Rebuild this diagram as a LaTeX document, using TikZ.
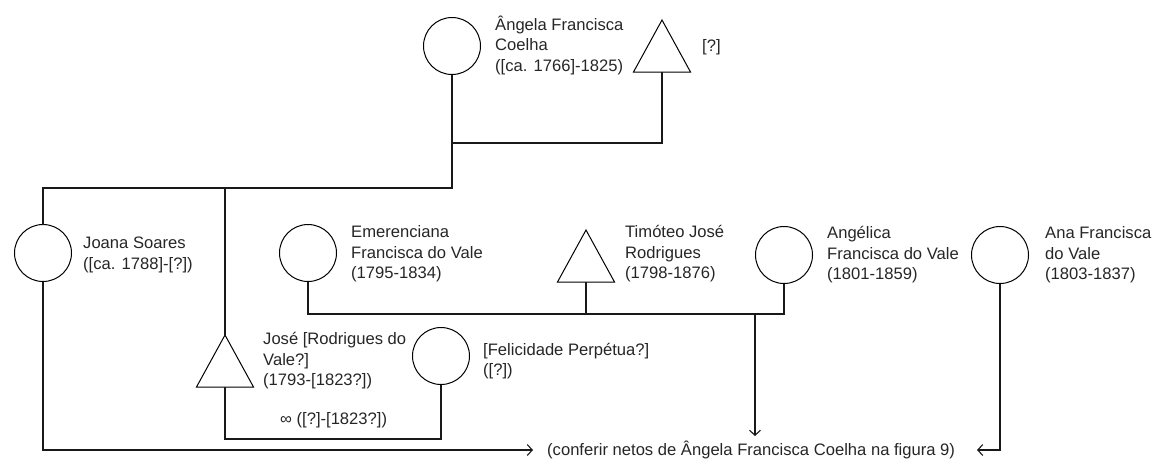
\documentclass[tikz,border=0pt]{standalone}
\usepackage{fontspec}
\setmainfont{Liberation Sans}
\usetikzlibrary{shapes.geometric,arrows.meta,calc}
\begin{document}
\begin{tikzpicture}[x=1pt,y=-1pt,
  female/.style={draw=black,line width=1pt,circle,minimum size=57pt,inner sep=0pt,outer sep=0pt},
  male/.style={draw=black,line width=1pt,isosceles triangle,isosceles triangle stretches,
     shape border rotate=90,minimum width=57pt,minimum height=52pt,inner sep=0pt,outer sep=0pt,anchor=apex},
  label/.style={anchor=west,align=left,inner sep=0pt,text=black!85,font=\fontsize{16.6}{20.5}\selectfont},
  thin/.style={draw=black!90,line width=1.1pt},
  thick/.style={draw=black!90,line width=2.2pt},
  tip/.style={-{Straight Barb[length=5pt,width=11pt,line width=1.1pt]}}
]
\useasboundingbox (0,0) rectangle (1153,459);

% top generation
\node[female] (ang) at (452,46) {};
\node[label] (angt) at (495,45) {Ângela Francisca\\Coelha\\([ca. 1766]-1825)};
\node[male] (hus) at (662,20) {};
\node[label] (hust) at (702,47) {[?]};

% children
\node[female] (joa) at (43,253) {};
\node[label] (joat) at (83,255) {Joana Soares\\([ca. 1788]-[?])};
\node[female] (eme) at (308,253) {};
\node[label] (emet) at (351,254) {Emerenciana\\Francisca do Vale\\(1795-1834)};
\node[male] (tim) at (586,230) {};
\node[label] (timt) at (625,254) {Timóteo José\\Rodrigues\\(1798-1876)};
\node[female] (agl) at (784,255) {};
\node[label] (aglt) at (827,255) {Angélica\\Francisca do Vale\\(1801-1859)};
\node[female] (ana) at (1000,255) {};
\node[label] (anat) at (1045,255) {Ana Francisca\\do Vale\\(1803-1837)};
\node[male] (jos) at (225,335) {};
\node[label] (jost) at (263,361) {José [Rodrigues do\\Vale?]\\(1793-[1823?])};
\node[female] (fel) at (441,356) {};
\node[label] (felt) at (483,361) {[Felicidade Perpétua?]\\([?])};
\node[label] (mar) at (280,420) {∞ ([?]-[1823?])};

% reference text
\node[label,anchor=base west] (ref) at (547,455) {(conferir netos de Ângela Francisca Coelha na figura 9)};
\coordinate (refL) at (533,450);
\coordinate (refR) at (977,450);
\coordinate (refT) at (755,436);

% junction points
\coordinate (pj) at (452,143);
\coordinate (cj) at (225,188);
\coordinate (sj) at (586,314);
\coordinate (dj) at (755,314);
\coordinate (mj) at (441,439);

% parents
\draw[thin] (hus.south) |- (pj);
\draw[thick] (ang.south) |- (cj);
\draw[thin] (cj) -| (joa.north);
\draw[thin] (cj) -- (jos.apex);

% Joana to reference
\draw[thin,tip] (joa.south) |- (refL);
% José and Felicidade
\draw[thin] (jos.south) |- (mj) -- (fel.south);
% Timóteo couple
\draw[thin] (eme.south) |- (sj);
\draw[thin] (tim.south) -- (sj);
\draw[thin] (agl.south) |- (dj);
\draw[thick] (sj) -- (dj);
\draw[thick,tip] (dj) -- (refT);
% Ana
\draw[thin,tip] (ana.south) |- (refR);
\end{tikzpicture}
\end{document}
